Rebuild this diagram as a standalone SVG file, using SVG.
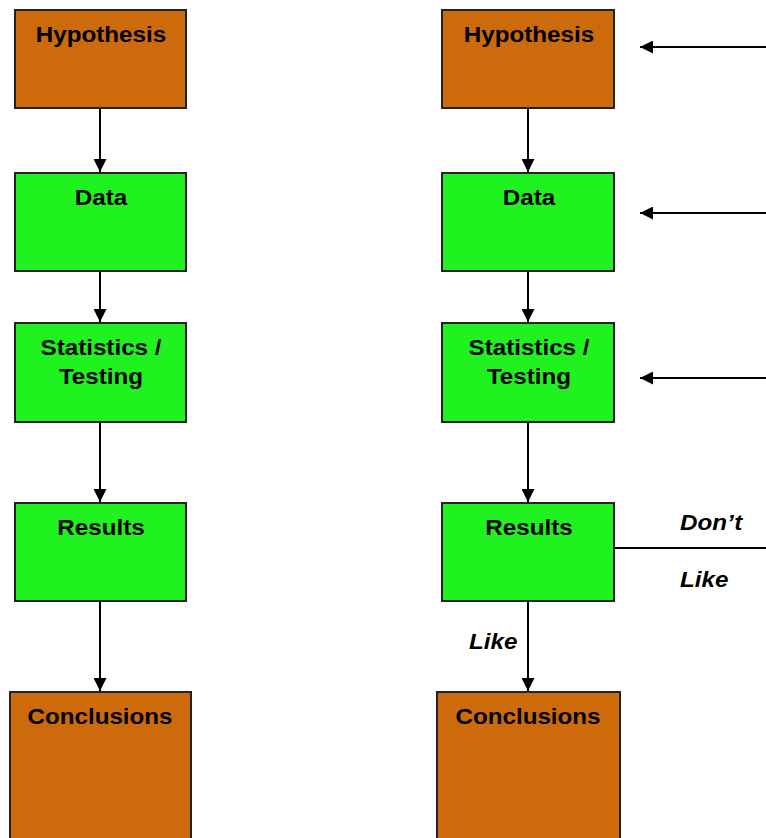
<svg xmlns="http://www.w3.org/2000/svg" width="766" height="838" viewBox="0 0 766 838">
<defs>
<marker id="ah" markerWidth="13" markerHeight="13" viewBox="0 0 13 13" refX="13" refY="6.5" orient="auto" markerUnits="userSpaceOnUse">
<path d="M0,0 L13,6.5 L0,13 Z" fill="#000"/>
</marker>
<style>
.box{stroke:#222;stroke-width:2}
.or{fill:#CC6A0C}
.gr{fill:#1FF21F}
.t{font-family:"Liberation Sans",Arial,sans-serif;font-weight:bold;font-size:22px;text-anchor:middle;fill:#000}
.i{font-family:"Liberation Sans",Arial,sans-serif;font-weight:bold;font-style:italic;font-size:22px;fill:#000}
.c{stroke:#000;stroke-width:2;fill:none}
</style>
</defs>
<rect width="766" height="838" fill="#fff"/>
<g id="connectors">
<line class="c" x1="100" y1="108" x2="100" y2="172" marker-end="url(#ah)"/>
<line class="c" x1="100" y1="271" x2="100" y2="322" marker-end="url(#ah)"/>
<line class="c" x1="100" y1="422" x2="100" y2="502" marker-end="url(#ah)"/>
<line class="c" x1="100" y1="601" x2="100" y2="691" marker-end="url(#ah)"/>
<line class="c" x1="528" y1="108" x2="528" y2="172" marker-end="url(#ah)"/>
<line class="c" x1="528" y1="271" x2="528" y2="322" marker-end="url(#ah)"/>
<line class="c" x1="528" y1="422" x2="528" y2="502" marker-end="url(#ah)"/>
<line class="c" x1="528" y1="601" x2="528" y2="691" marker-end="url(#ah)"/>
<line class="c" x1="766" y1="47" x2="640" y2="47" marker-end="url(#ah)"/>
<line class="c" x1="766" y1="213" x2="640" y2="213" marker-end="url(#ah)"/>
<line class="c" x1="766" y1="378" x2="640" y2="378" marker-end="url(#ah)"/>
<line class="c" x1="614" y1="548" x2="766" y2="548"/>
<text class="i" transform="translate(680,530) scale(1.1,1)">Don’t</text>
<text class="i" transform="translate(680,587) scale(1.1,1)">Like</text>
<text class="i" transform="translate(469,649) scale(1.1,1)">Like</text>
</g>
<g id="hyp1"><rect class="box or" x="15" y="10" width="171" height="98"/><text class="t" transform="translate(101,42) scale(1.1,1)">Hypothesis</text></g>
<g id="data1"><rect class="box gr" x="15" y="173" width="171" height="98"/><text class="t" transform="translate(101,205) scale(1.1,1)">Data</text></g>
<g id="stat1"><rect class="box gr" x="15" y="323" width="171" height="99"/><text class="t" transform="translate(101,355) scale(1.1,1)">Statistics /</text><text class="t" transform="translate(101,384) scale(1.1,1)">Testing</text></g>
<g id="res1"><rect class="box gr" x="15" y="503" width="171" height="98"/><text class="t" transform="translate(101,535) scale(1.1,1)">Results</text></g>
<g id="conc1"><rect class="box or" x="10" y="692" width="181" height="156"/><text class="t" transform="translate(100,724) scale(1.1,1)">Conclusions</text></g>
<g id="hyp2"><rect class="box or" x="442" y="10" width="172" height="98"/><text class="t" transform="translate(529,42) scale(1.1,1)">Hypothesis</text></g>
<g id="data2"><rect class="box gr" x="442" y="173" width="172" height="98"/><text class="t" transform="translate(529,205) scale(1.1,1)">Data</text></g>
<g id="stat2"><rect class="box gr" x="442" y="323" width="172" height="99"/><text class="t" transform="translate(529,355) scale(1.1,1)">Statistics /</text><text class="t" transform="translate(529,384) scale(1.1,1)">Testing</text></g>
<g id="res2"><rect class="box gr" x="442" y="503" width="172" height="98"/><text class="t" transform="translate(529,535) scale(1.1,1)">Results</text></g>
<g id="conc2"><rect class="box or" x="437" y="692" width="183" height="156"/><text class="t" transform="translate(528,724) scale(1.1,1)">Conclusions</text></g>
</svg>
